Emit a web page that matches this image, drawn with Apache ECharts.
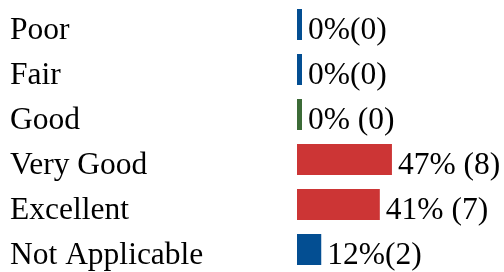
<!DOCTYPE html>
<html>
<head>
<meta charset="utf-8">
<script src="https://cdn.jsdelivr.net/npm/echarts@6/dist/echarts.min.js"></script>
<style>
  html, body { margin: 0; padding: 0; background: #fff; }
  #chart { width: 504px; height: 272px; }
</style>
</head>
<body>
<div id="chart"></div>
<script>
// survey answers, top to bottom
var categories = ['Poor', 'Fair', 'Good', 'Very Good', 'Excellent', 'Not Applicable']
var percents = [0, 0, 0, 47, 41, 12]
var counts = [0, 0, 0, 8, 7, 2]
// value labels as printed (spacing kept as in the picture)
var valueLabels = ['0%(0)', '0%(0)', '0% (0)', '47% (8)', '41% (7)', '12%(2)']
var barColors = ['#034e92', '#034e92', '#3c6b37', '#cc3535', '#cc3535', '#034e92']

var chart = echarts.init(document.getElementById('chart'))
var font = 'Liberation Serif'

chart.setOption({
  animation: false,
  grid: { left: 297, right: 5, top: 2, bottom: 0 },
  xAxis: {
    type: 'value',
    min: 0,
    max: 100,
    show: false
  },
  yAxis: {
    type: 'category',
    inverse: true,
    data: categories,
    axisLine: { show: false },
    axisTick: { show: false },
    splitLine: { show: false },
    axisLabel: {
      align: 'left',
      margin: 287,
      formatter: function (v) {
        return '{c|' + v + '}'
      },
      rich: {
        c: {
          color: '#000',
          fontFamily: font,
          fontSize: 31.5,
          padding: [12, 0, 0, 0]
        }
      }
    }
  },
  series: [
    {
      type: 'bar',
      barWidth: 31,
      barMinHeight: 5,
      data: percents.map(function (v, i) {
        return { value: v, count: counts[i], itemStyle: { color: barColors[i] } }
      }),
      label: {
        show: true,
        position: 'right',
        distance: 6,
        offset: [0, 6],
        color: '#000',
        fontFamily: font,
        fontSize: 31.5,
        formatter: function (p) {
          return valueLabels[p.dataIndex]
        }
      }
    }
  ]
})
</script>
</body>
</html>
